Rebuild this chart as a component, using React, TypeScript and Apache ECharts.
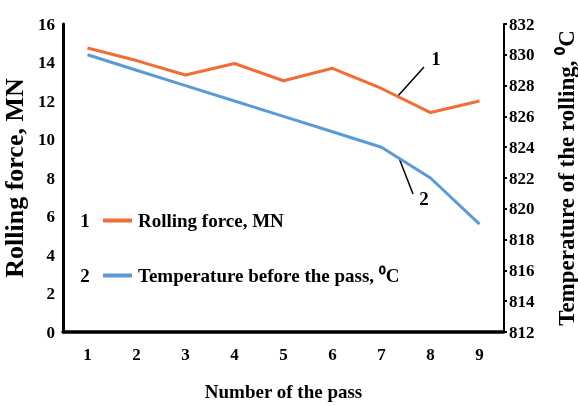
import React, { useEffect, useRef } from "react";
import * as echarts from "echarts";

const passes = ["1", "2", "3", "4", "5", "6", "7", "8", "9"];
const rollingForce = [14.75, 14.1, 13.35, 13.95, 13.05, 13.7, 12.65, 11.4, 12.0];
const temperature = [830, 829, 828, 827, 826, 825, 824, 822, 819];

const forceName = "Rolling force, MN";
const tempName = "Temperature before the pass, ⁰C";
const FONT = "Liberation Serif";
const ORANGE = "#F26C35";
const BLUE = "#5B9BD5";

export default function App() {
  const ref = useRef<HTMLDivElement>(null);
  useEffect(() => {
    if (!ref.current) return;
    const chart = echarts.init(ref.current, null, { renderer: "svg" });
    const baseText = { fontFamily: FONT, fontWeight: "bold", color: "#000" };
    const gText = (x: number, y: number, t: string) => ({
      type: "text",
      x,
      y,
      style: { text: t, fontFamily: FONT, fontWeight: "bold", fontSize: 19, fill: "#000", align: "center", verticalAlign: "middle" },
    });
    const legendCommon = {
      orient: "vertical",
      left: 98,
      icon: "rect",
      itemWidth: 29,
      itemHeight: 4,
      textStyle: { ...baseText, fontSize: 19, padding: [0, 0, 0, 1] },
    };
    chart.setOption({
      animation: false,
      grid: { left: 63, right: 74, top: 24, bottom: 74, outerBoundsMode: "none" },
      xAxis: {
        type: "category",
        data: passes,
        axisLine: { lineStyle: { color: "#000", width: 3.5 } },
        axisTick: { show: false },
        axisLabel: { ...baseText, fontSize: 17, margin: 14 },
        name: "Number of the pass",
        nameLocation: "middle",
        nameGap: 50,
        nameTextStyle: { ...baseText, fontSize: 19 },
      },
      yAxis: [
        {
          type: "value",
          min: 0,
          max: 16,
          interval: 2,
          axisLine: { show: true, lineStyle: { color: "#000", width: 3 } },
          axisTick: { show: false },
          splitLine: { show: false },
          axisLabel: { ...baseText, fontSize: 17, margin: 8 },
          name: "Rolling force, MN",
          nameLocation: "middle",
          nameRotate: 90,
          nameGap: 28,
          nameTextStyle: { ...baseText, fontSize: 26 },
        },
        {
          type: "value",
          min: 812,
          max: 832,
          interval: 2,
          position: "right",
          axisLine: { show: true, lineStyle: { color: "#000", width: 2 } },
          axisTick: { show: true, length: 3, lineStyle: { color: "#000", width: 2 } },
          splitLine: { show: false },
          axisLabel: { ...baseText, fontSize: 17, margin: 5 },
          name: "Temperature of the rolling, ⁰C",
          nameLocation: "middle",
          nameRotate: 90,
          nameGap: 51,
          nameTextStyle: { ...baseText, fontSize: 23 },
        },
      ],
      legend: [
        { ...legendCommon, data: [forceName], top: 206 },
        { ...legendCommon, data: [tempName], top: 261 },
      ],
      series: [
        { name: forceName, type: "line", yAxisIndex: 0, data: rollingForce, symbol: "none", color: ORANGE, lineStyle: { color: ORANGE, width: 3 } },
        { name: tempName, type: "line", yAxisIndex: 1, data: temperature, symbol: "none", color: BLUE, lineStyle: { color: BLUE, width: 3 } },
      ],
      graphic: [
        gText(85, 220, "1"),
        gText(85, 275, "2"),
        { type: "line", shape: { x1: 397, y1: 97, x2: 424, y2: 67 }, style: { stroke: "#000", lineWidth: 1.5 } },
        gText(436, 58, "1"),
        { type: "line", shape: { x1: 399, y1: 158, x2: 413, y2: 194 }, style: { stroke: "#000", lineWidth: 1.5 } },
        gText(424, 198, "2"),
      ],
    });
    return () => chart.dispose();
  }, []);
  return <div ref={ref} style={{ position: "fixed", left: 0, top: 0, width: 578, height: 406 }} />;
}
